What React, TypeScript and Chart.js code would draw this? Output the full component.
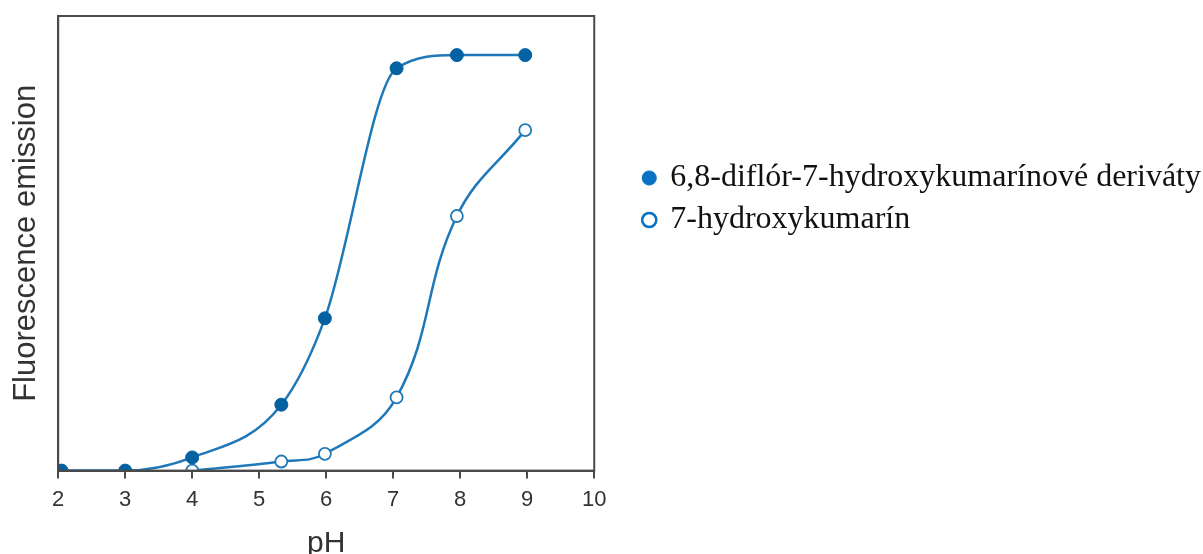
import React, { useEffect, useRef } from "react";
import { Chart, registerables } from "chart.js";

Chart.register(...registerables);

const phFilled = [2.05, 3.0, 4.0, 5.33, 5.98, 7.05, 7.95, 8.97];
const emFilled = [0, 0, 2.9, 14.5, 33.5, 88.5, 91.4, 91.4];
const phOpen = [4.0, 5.33, 5.98, 7.05, 7.95, 8.97];
const emOpen = [0, 2.0, 3.7, 16.1, 56.0, 74.9];
const xTicks = [2, 3, 4, 5, 6, 7, 8, 9, 10];
const seriesNames = ["6,8-diflór-7-hydroxykumarínové deriváty", "7-hydroxykumarín"];

const LINE = "#1f78b8";
const DARK = "#0462a3";

const boxPlugin = {
  id: "boxPlugin",
  afterLayout(chart: any) {
    const lg = chart.legend;
    if (lg) {
      lg.left += 40;
      lg.right += 40;
    }
  },
  afterDraw(chart: any) {
    const { ctx, chartArea } = chart;
    ctx.save();
    ctx.strokeStyle = "#4a4a4a";
    ctx.lineWidth = 2;
    ctx.strokeRect(chartArea.left, chartArea.top, chartArea.right - chartArea.left, chartArea.bottom - chartArea.top);
    ctx.restore();
  },
};

export default function App() {
  const ref = useRef<HTMLCanvasElement>(null);
  useEffect(() => {
    if (!ref.current) return;
    const chart = new Chart(ref.current, {
      type: "line",
      data: {
        datasets: [
          {
            label: seriesNames[0],
            data: phFilled.map((x, i) => ({ x, y: emFilled[i] })),
            borderColor: LINE,
            borderWidth: 2.5,
            backgroundColor: DARK,
            pointBackgroundColor: DARK,
            pointBorderColor: DARK,
            pointRadius: 6.5,
            pointBorderWidth: 1,
            cubicInterpolationMode: "monotone",
            pointStyle: "circle",
          },
          {
            label: seriesNames[1],
            data: phOpen.map((x, i) => ({ x, y: emOpen[i] })),
            borderColor: LINE,
            borderWidth: 2.5,
            backgroundColor: "#ffffff",
            pointBackgroundColor: "#ffffff",
            pointBorderColor: LINE,
            pointRadius: 6,
            pointBorderWidth: 1.8,
            tension: 0.4,
            pointStyle: "circle",
          },
        ],
      },
      options: {
        animation: false,
        responsive: true,
        maintainAspectRatio: false,
        layout: { padding: { top: 16, bottom: 0, left: 0, right: 0 } },
        plugins: {
          tooltip: { enabled: false },
          legend: {
            position: "right",
            align: "start",
            maxWidth: 640,
            title: { display: true, text: "", font: { size: 10, lineHeight: 1 }, padding: { top: 126, bottom: 0 } },
            labels: {
              usePointStyle: true,
              boxWidth: 10,
              boxHeight: 10,
              padding: 10,
              color: "#111",
              font: { family: "'Liberation Serif', 'Times New Roman', serif", size: 32 },
              generateLabels: () => [
                {
                  text: seriesNames[0],
                  fillStyle: "#0a72c2",
                  strokeStyle: "#0a72c2",
                  fontColor: "#111",
                  lineWidth: 1,
                  pointStyle: "circle",
                  datasetIndex: 0,
                  hidden: false,
                } as any,
                {
                  text: seriesNames[1],
                  fillStyle: "#ffffff",
                  strokeStyle: "#0a72c2",
                  fontColor: "#111",
                  lineWidth: 2.5,
                  pointStyle: "circle",
                  datasetIndex: 1,
                  hidden: false,
                } as any,
              ],
            },
          },
        },
        scales: {
          x: {
            type: "linear",
            min: 2,
            max: 10,
            afterBuildTicks: (scale: any) => {
              scale.ticks = xTicks.map((v) => ({ value: v }));
            },
            afterFit: (scale: any) => {
              const lw = scale.chart.legend ? scale.chart.legend.width : 0;
              scale.paddingRight = lw + 32;
            },
            ticks: {
              color: "#333",
              font: { family: "'Liberation Sans', Arial, sans-serif", size: 22 },
              padding: 8,
              maxRotation: 0,
            },
            grid: { drawOnChartArea: false, drawTicks: true, tickLength: 8, color: "#4a4a4a", lineWidth: 2 },
            border: { display: true, color: "#4a4a4a", width: 2 },
            title: {
              display: true,
              text: "pH",
              color: "#333",
              font: { family: "'Liberation Sans', Arial, sans-serif", size: 30, lineHeight: 1.1 },
              padding: { top: 6, bottom: -6 },
            },
          },
          y: {
            type: "linear",
            min: 0,
            max: 100,
            ticks: { display: false },
            grid: { display: false, drawTicks: false },
            border: { display: true, color: "#4a4a4a", width: 2 },
            title: {
              display: true,
              text: "Fluorescence emission",
              color: "#333",
              font: { family: "'Liberation Sans', Arial, sans-serif", size: 31 },
              padding: { top: 8, bottom: 13 },
            },
          },
        },
      },
      plugins: [boxPlugin],
    } as any);
    return () => chart.destroy();
  }, []);
  return (
    <div style={{ position: "absolute", left: 0, top: 0, width: 1203, height: 554, background: "#fff" }}>
      <canvas ref={ref} />
    </div>
  );
}
